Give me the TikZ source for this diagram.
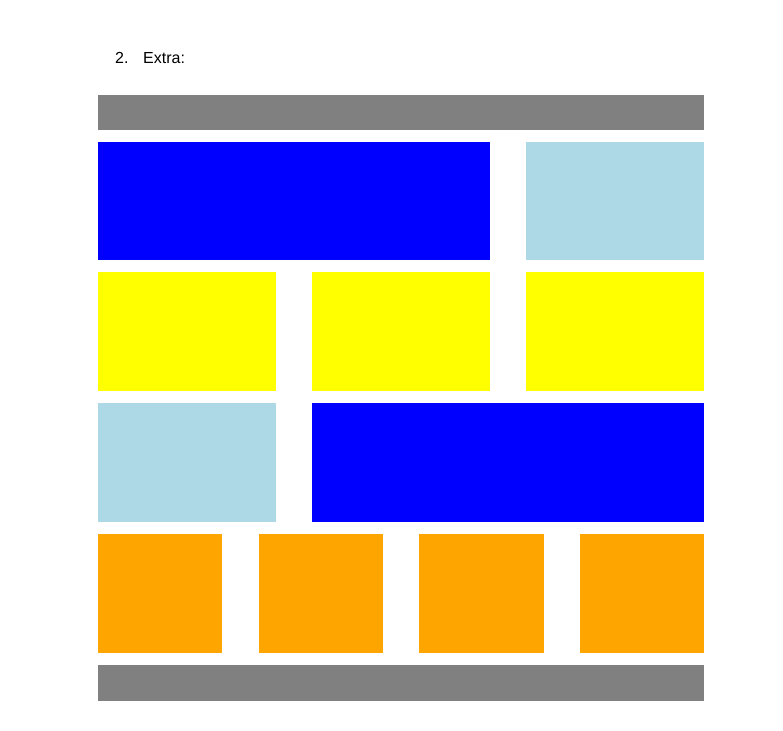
\documentclass[tikz,border=0pt]{standalone}
\usepackage{fontspec}
\setmainfont{Liberation Sans}
\definecolor{cgray}{HTML}{808080}
\definecolor{cblue}{HTML}{0000FF}
\definecolor{clblue}{HTML}{ADD8E6}
\definecolor{cyellow}{HTML}{FFFF00}
\definecolor{corange}{HTML}{FFA500}
\begin{document}
\begin{tikzpicture}[x=1pt,y=1pt,
  box/.style={inner sep=0pt, outer sep=0pt, draw=none, anchor=north west},
  lbl/.style={inner sep=0pt, anchor=base west, font=\fontsize{16}{18}\selectfont}]
\useasboundingbox (0,0) rectangle (783,-730);
\node[lbl] (num) at (115,-64) {2.};
\node[lbl] (ttl) at (143,-64) {Extra:};
\node[box, fill=cgray, minimum width=606pt, minimum height=35pt] (top) at (98,-95) {};
\node[box, fill=cblue, minimum width=392pt, minimum height=118pt] (b1) at (98,-142) {};
\node[box, fill=clblue, minimum width=178pt, minimum height=118pt] (l1) at (526,-142) {};
\node[box, fill=cyellow, minimum width=178pt, minimum height=119pt] (y1) at (98,-272) {};
\node[box, fill=cyellow, minimum width=178pt, minimum height=119pt] (y2) at (312,-272) {};
\node[box, fill=cyellow, minimum width=178pt, minimum height=119pt] (y3) at (526,-272) {};
\node[box, fill=clblue, minimum width=178pt, minimum height=119pt] (l2) at (98,-403) {};
\node[box, fill=cblue, minimum width=392pt, minimum height=119pt] (b2) at (312,-403) {};
\node[box, fill=corange, minimum width=124pt, minimum height=119pt] (o1) at (98,-534) {};
\node[box, fill=corange, minimum width=124pt, minimum height=119pt] (o2) at (259,-534) {};
\node[box, fill=corange, minimum width=125pt, minimum height=119pt] (o3) at (419,-534) {};
\node[box, fill=corange, minimum width=124pt, minimum height=119pt] (o4) at (580,-534) {};
\node[box, fill=cgray, minimum width=606pt, minimum height=36pt] (bot) at (98,-665) {};
\end{tikzpicture}
\end{document}
